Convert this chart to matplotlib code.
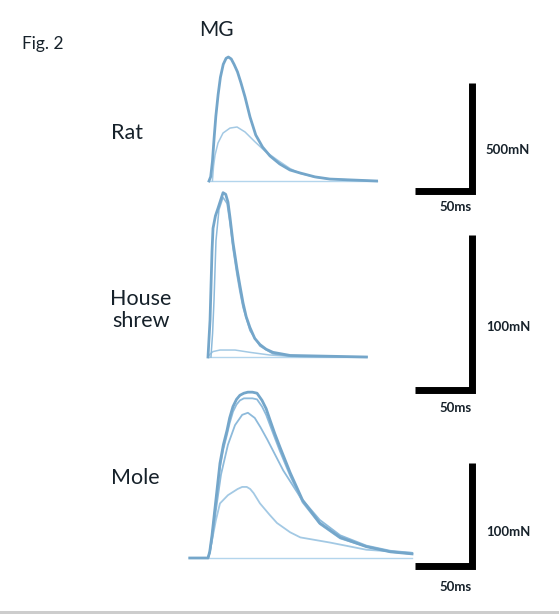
import matplotlib
matplotlib.use("Agg")
import matplotlib.pyplot as plt
from matplotlib.patches import Rectangle

plt.rcParams['font.family'] = ['Lato', 'DejaVu Sans']

# Rat (time in ms, force in mN)
rat_t = [0, 1.5, 3, 4.5, 6, 8, 10, 12.5, 15, 17, 19.5, 22, 25, 28, 31.6, 36, 41, 47, 53.5, 62, 71, 80, 93, 106, 124, 147]
rat_tetanus = [0, 20, 90, 200, 300, 400, 480, 540, 568, 574, 565, 540, 505, 455, 389, 296, 213, 157, 116, 79, 51, 37, 19, 9, 5, 0]
rat_tw_t = [3, 4, 5.3, 7.9, 12.3, 18.4, 24.6, 31.6, 40.4, 49, 60, 71, 80, 93, 106, 124, 147]
rat_twitch = [0, 70, 120, 176, 222, 245, 250, 227, 181, 139, 97, 58, 35, 18, 9, 5, 0]
rat_end = 147

# House shrew
shrew_t = [0, 1.8, 3.5, 4.4, 6.5, 8.8, 11, 13.2, 15.5, 17.5, 19.3, 21.9, 25.4, 28, 30.7, 33.5, 36.8, 41, 45.6, 51, 57, 72, 139]
shrew_a = [0, 24, 68, 83, 91, 96, 101, 106, 105, 100, 90, 74, 57, 46, 35, 26, 19, 12, 8, 5, 3, 1, 0]
shrew_b_t = [2.6, 4, 5.3, 7, 9.6, 13.2, 16.7, 19.3, 21.9, 25.4, 28, 30.7, 36.8, 45.6, 57, 72, 139]
shrew_b = [0, 15, 37, 75, 95, 103, 99, 86, 70, 53, 42, 32, 17, 7, 2, 0.5, 0]
shrew_tw_t = [0, 2, 4.4, 10.5, 23.7, 36.8, 54, 81, 139]
shrew_twitch = [0, 2, 3.5, 4.5, 4.5, 3, 1.3, 0, 0]
shrew_end = 139

# Mole
mole_t = [-16, 0, 1.5, 3.5, 6.1, 8.5, 10.5, 13.5, 16.7, 19, 21.9, 25, 28, 31.5, 35, 39, 43, 47.4, 51, 54.4, 58.5, 63, 72, 83, 98, 116, 139, 160, 179]
mole_a = [0, 0, 6, 22, 48, 72, 92, 110, 124, 136, 147, 154, 158, 160, 161, 161, 160, 153, 145, 134, 121, 108, 83, 56, 34, 20, 11, 6, 4]
mole_b = [0, 0, 6, 21, 46, 69, 88, 106, 120, 131, 142, 149, 153, 155, 155, 155, 154, 147, 139, 129, 117, 104, 80, 54, 33, 19, 11, 6, 4]
mole_c_t = [0, 1.5, 3.5, 7, 11.4, 17.5, 23.7, 30, 35, 41, 46, 52, 59, 66, 81, 98, 116, 139, 160, 179]
mole_c = [0, 5, 17, 47, 81, 110, 129, 139, 141, 136, 127, 115, 100, 85, 59, 37, 22, 12, 7, 5]
mole_tw_t = [0, 1.5, 3.5, 7, 10.5, 17.5, 26, 30, 34, 37, 40, 45.6, 54, 60.5, 72, 81, 107, 139, 179]
mole_twitch = [0, 5, 17, 37, 53, 61, 67, 69, 69, 67, 63, 53, 42, 34, 25, 20, 15, 8, 5]
mole_end = 179

# scale bars: (ms, mN)
bars = [(50, 500), (50, 100), (50, 100)]
bar_labels = [('50ms', '500mN'), ('50ms', '100mN'), ('50ms', '100mN')]

W, H = 559, 614
fig = plt.figure(figsize=(W / 100, H / 100), dpi=100)
fig.patch.set_facecolor('white')

C_MAIN = '#74a6ca'
C_SEC = '#8dbadb'
C_TW = '#a3c9e4'
C_BASE = '#b3d5ec'


def panel(box, t0, base, px_ms, px_mn):
    x0, y0, x1, y1 = box
    ax = fig.add_axes([x0 / W, 1 - y1 / H, (x1 - x0) / W, (y1 - y0) / H])
    ax.set_xlim((x0 - t0) / px_ms, (x1 - t0) / px_ms)
    ax.set_ylim((base - y1) / px_mn, (base - y0) / px_mn)
    ax.axis('off')
    ax.patch.set_alpha(0)
    return ax


def scale_bar(ax, corner, t0, base, px_ms, px_mn, t_len, f_len):
    tc = (corner[0] - t0) / px_ms
    fc = (base - corner[1]) / px_mn
    ax.plot([tc - t_len, tc, tc], [fc, fc, fc + f_len], color='black', lw=5,
            solid_joinstyle='miter', solid_capstyle='butt', clip_on=False)


def ftext(x, y, s, size, **kw):
    fig.text(x / W, 1 - y / H, s, fontsize=size, ha='center', va='center', color='#16212a', **kw)


# Rat panel
p = (209, 181, 1.14, 0.216)
ax = panel((185, 40, 545, 200), *p)
ax.plot([0, rat_end], [0, 0], color=C_BASE, lw=1)
ax.plot(rat_tw_t, rat_twitch, color=C_TW, lw=1.1)
ax.plot(rat_t, rat_tetanus, color=C_MAIN, lw=2)
scale_bar(ax, (471.5, 191), *p, *bars[0])

# House shrew panel
p = (208, 357, 1.14, 1.55)
ax = panel((185, 180, 545, 400), *p)
ax.plot([0, shrew_end], [0, 0], color=C_BASE, lw=1)
ax.plot(shrew_tw_t, shrew_twitch, color=C_TW, lw=1.1)
ax.plot(shrew_b_t, shrew_b, color=C_SEC, lw=1.1)
ax.plot(shrew_t, shrew_a, color=C_MAIN, lw=2)
scale_bar(ax, (471.5, 390), *p, *bars[1])

# Mole panel
p = (208, 558, 1.14, 1.03)
ax = panel((185, 380, 545, 600), *p)
ax.plot([0, mole_end], [0, 0], color=C_BASE, lw=1)
ax.plot(mole_tw_t, mole_twitch, color=C_TW, lw=1.3)
ax.plot(mole_c_t, mole_c, color=C_SEC, lw=1.3)
ax.plot(mole_t, mole_b, color=C_SEC, lw=1.3)
ax.plot(mole_t, mole_a, color=C_MAIN, lw=2)
scale_bar(ax, (471.5, 566), *p, *bars[2])

# texts
ftext(43, 44, 'Fig. 2', 12.5)
ftext(216, 30, 'MG', 15)
ftext(127, 133, 'Rat', 15.5)
ftext(141, 310, 'House\nshrew', 15.5, linespacing=1.1)
ftext(135, 478, 'Mole', 15.5)
for (lt, lf), yt, yf in zip(bar_labels, [207, 408, 587], [150, 327, 532]):
    ftext(456, yt, lt, 9.5, fontweight='bold')
    ftext(508, yf, lf, 9.5, fontweight='bold')

fig.add_artist(Rectangle((0, 0), 1, 3 / H, transform=fig.transFigure, color='#cdcdcd', lw=0))

fig.savefig('out.png', dpi=100)
